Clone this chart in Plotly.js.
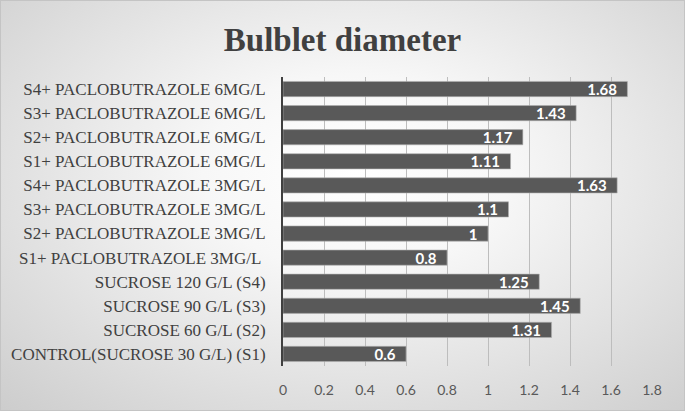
<!DOCTYPE html>
<html>
<head>
<meta charset="utf-8">
<script src="https://cdn.plot.ly/plotly-3.0.1.min.js"></script>
<style>
html,body{margin:0;padding:0;}
#wrap{width:685px;height:411px;box-sizing:border-box;border:1px solid #c4c4c4;
background:radial-gradient(ellipse 75% 80% at 52% 42%, #ffffff 0%, #f7f7f7 30%, #e2e2e2 65%, #cdcdcd 100%);}
#chart{width:683px;height:409px;}
</style>
</head>
<body>
<div id="wrap"><div id="chart"></div></div>
<script>
const categories = [
  "CONTROL(SUCROSE 30 G/L) (S1)",
  "SUCROSE 60 G/L (S2)",
  "SUCROSE 90 G/L (S3)",
  "SUCROSE 120 G/L (S4)",
  "S1+ PACLOBUTRAZOLE 3MG/L\u00a0",
  "S2+ PACLOBUTRAZOLE 3MG/L",
  "S3+ PACLOBUTRAZOLE 3MG/L",
  "S4+ PACLOBUTRAZOLE 3MG/L",
  "S1+ PACLOBUTRAZOLE 6MG/L",
  "S2+ PACLOBUTRAZOLE 6MG/L",
  "S3+ PACLOBUTRAZOLE 6MG/L",
  "S4+ PACLOBUTRAZOLE 6MG/L"
];
const diameters = [0.6, 1.31, 1.45, 1.25, 0.8, 1, 1.1, 1.63, 1.11, 1.17, 1.43, 1.68];
const labels = ["0.6", "1.31", "1.45", "1.25", "0.8", "1", "1.1", "1.63", "1.11", "1.17", "1.43", "1.68"];
const xTicks = [0, 0.2, 0.4, 0.6, 0.8, 1, 1.2, 1.4, 1.6, 1.8];
const xTickText = ["0", "0.2", "0.4", "0.6", "0.8", "1", "1.2", "1.4", "1.6", "1.8"];

const trace = {
  type: "bar",
  orientation: "h",
  y: categories,
  x: diameters,
  text: labels.map(t => t + "\u2002"),
  textposition: "inside",
  insidetextanchor: "end",
  textangle: 0,
  constraintext: "none",
  insidetextfont: {family: "Lato, 'Open Sans', sans-serif", size: 15, color: "#ffffff", weight: 700},
  marker: {color: "#595959", line: {color: "#b0b0b0", width: 0.6}},
  hoverinfo: "none",
  cliponaxis: false
};

const layout = {
  width: 683, height: 409,
  paper_bgcolor: "rgba(0,0,0,0)",
  plot_bgcolor: "rgba(0,0,0,0)",
  margin: {l: 282, r: 32, t: 76, b: 44},
  bargap: 0.37,
  showlegend: false,
  title: {
    text: "<b>Bulblet diameter</b>",
    font: {family: "'Liberation Serif', 'Times New Roman', serif", size: 33, color: "#404040"},
    x: 0.5, xanchor: "center", xref: "container",
    y: 0.905, yanchor: "middle"
  },
  xaxis: {
    range: [0, 1.8],
    tickvals: xTicks,
    ticktext: xTickText,
    showgrid: true,
    gridcolor: "#bdbdbd",
    gridwidth: 1,
    zeroline: false,
    showline: false,
    ticks: "",
    ticklabelstandoff: 14,
    tickfont: {family: "Lato, 'Open Sans', sans-serif", size: 14, color: "#595959"},
    fixedrange: true
  },
  yaxis: {
    type: "category",
    categoryorder: "array",
    categoryarray: categories,
    showgrid: false,
    zeroline: false,
    showline: true,
    linecolor: "#404040",
    linewidth: 2,
    ticks: "",
    ticklabelstandoff: 12,
    tickfont: {family: "'Liberation Serif', 'Times New Roman', serif", size: 17, color: "#404040"},
    fixedrange: true
  }
};

Plotly.newPlot("chart", [trace], layout, {displayModeBar: false, staticPlot: true});
</script>
</body>
</html>
